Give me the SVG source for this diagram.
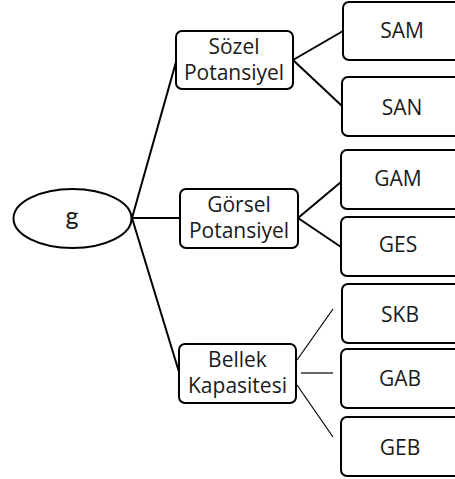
<svg xmlns="http://www.w3.org/2000/svg" width="455" height="479" viewBox="0 0 455 479">
<style>
.box{fill:#fff;stroke:#000;stroke-width:2}
.t{font-family:"Open Sans","Noto Sans",sans-serif;font-size:21px;fill:#1a1a1a;text-anchor:middle}
.c{stroke:#000;stroke-width:2;fill:none}
.thin{stroke:#000;stroke-width:1.2;fill:none}
</style>
<rect width="455" height="479" fill="#fff"/>
<g id="connectors">
<line class="c" x1="132" y1="218" x2="176" y2="62"/>
<line class="c" x1="132" y1="218" x2="180" y2="218"/>
<line class="c" x1="132" y1="218" x2="179" y2="372"/>
<line class="c" x1="293" y1="60" x2="343" y2="31"/>
<line class="c" x1="293" y1="60" x2="342" y2="106"/>
<line class="c" x1="298" y1="218" x2="341" y2="182"/>
<line class="c" x1="298" y1="218" x2="341" y2="247"/>
<line class="thin" x1="297" y1="360" x2="333" y2="309"/>
<line class="thin" x1="301" y1="373" x2="333" y2="373"/>
<line class="thin" x1="297" y1="385" x2="333" y2="437"/>
</g>
<g id="g">
<ellipse class="box" cx="72.5" cy="218.5" rx="59" ry="29.5"/>
<text class="t" x="72" y="225" style="font-family:Lato,'Open Sans',sans-serif;font-size:25px">g</text>
</g>
<g id="sozel">
<rect class="box" x="176" y="31" width="117" height="58" rx="6"/>
<text class="t" x="234" y="54">Sözel</text>
<text class="t" x="234" y="80">Potansiyel</text>
</g>
<g id="gorsel">
<rect class="box" x="180" y="189" width="118" height="59" rx="6"/>
<text class="t" x="239" y="212">Görsel</text>
<text class="t" x="239" y="238">Potansiyel</text>
</g>
<g id="bellek">
<rect class="box" x="179" y="344" width="117" height="59" rx="6"/>
<text class="t" x="237.5" y="367">Bellek</text>
<text class="t" x="237.5" y="393">Kapasitesi</text>
</g>
<g id="sam">
<rect class="box" x="343" y="2" width="120" height="58" rx="6"/>
<text class="t" x="402" y="38">SAM</text>
</g>
<g id="san">
<rect class="box" x="342" y="77" width="120" height="59" rx="6"/>
<text class="t" x="402" y="115">SAN</text>
</g>
<g id="gam">
<rect class="box" x="341" y="150" width="120" height="59" rx="6"/>
<text class="t" x="398" y="186">GAM</text>
</g>
<g id="ges">
<rect class="box" x="341" y="217" width="120" height="59" rx="6"/>
<text class="t" x="398" y="252">GES</text>
</g>
<g id="skb">
<rect class="box" x="342" y="284" width="120" height="59" rx="6"/>
<text class="t" x="400" y="322">SKB</text>
</g>
<g id="gab">
<rect class="box" x="341" y="349" width="120" height="59" rx="6"/>
<text class="t" x="400" y="386">GAB</text>
</g>
<g id="geb">
<rect class="box" x="341" y="417" width="120" height="59" rx="6"/>
<text class="t" x="400" y="455">GEB</text>
</g>
</svg>
